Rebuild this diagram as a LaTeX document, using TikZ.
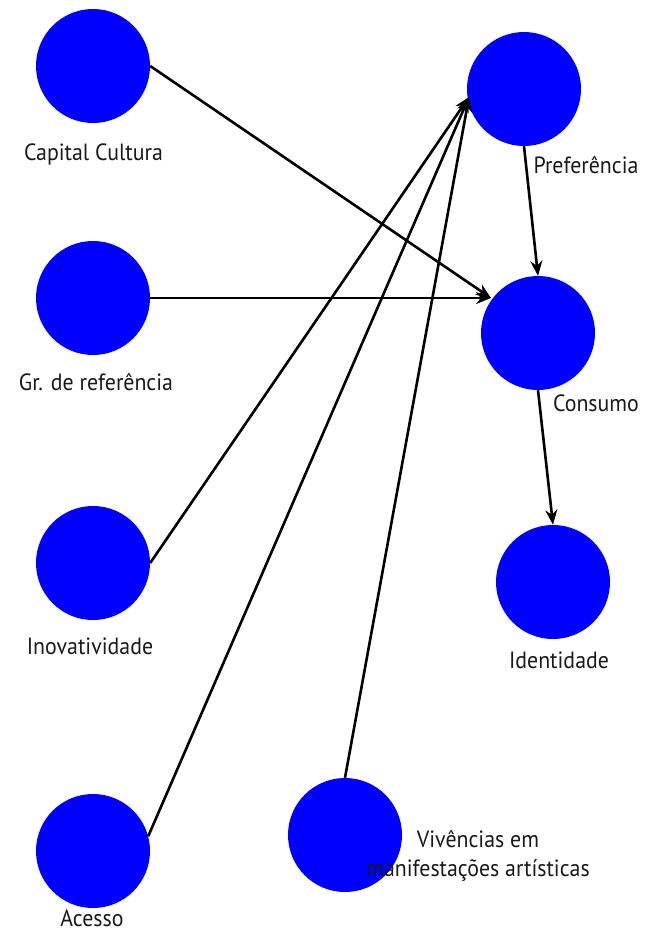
\documentclass[tikz,border=0pt]{standalone}
\usepackage{fontspec}
\setmainfont{PT Sans}[FakeStretch=0.93]
\usetikzlibrary{arrows.meta}
\begin{document}
\begin{tikzpicture}[x=1pt,y=-1pt,
  ball/.style={circle,fill={rgb,255:red,0;green,0;blue,255},draw=none,minimum size=114pt,inner sep=0pt},
  lbl/.style={anchor=base,inner sep=0pt,font=\fontsize{23.5}{29}\selectfont,text=black!90},
  conn/.style={line width=2.6pt,-{Stealth[length=15pt,width=12pt]}}]
\useasboundingbox (0,0) rectangle (654,932);
% nodes
\node[ball] (cap) at (93,66) {};
\node[ball] (gr) at (93,298) {};
\node[ball] (ino) at (93,563) {};
\node[ball] (ace) at (93,851) {};
\node[ball] (pref) at (524,89) {};
\node[ball] (cons) at (538,333) {};
\node[ball] (ident) at (553,582) {};
\node[ball] (viv) at (345,835) {};
% labels
\node[lbl] (lcap) at (93.5,160) {Capital Cultura};
\node[lbl] (lgr) at (96,390) {Gr. de referência};
\node[lbl] (lino) at (90,654) {Inovatividade};
\node[lbl] (lace) at (92,926) {Acesso};
\node[lbl] (lpref) at (586,173) {Preferência};
\node[lbl] (lcons) at (596,411) {Consumo};
\node[lbl] (lident) at (559,668) {Identidade};
\node[lbl,align=center] (lviv) at (478,876) {Vivências em\\manifestações artísticas};
% connection points
\coordinate (pin) at (469,97);
\coordinate (cin) at (491,298);
% edges
\draw[conn] (cap.east) -- (cin);
\draw[conn] (gr.east) -- (cin);
\draw[conn] (ino.east) -- (pin);
\draw[conn] (ace.15) -- (pin);
\draw[conn] (viv.north) -- (pin);
\draw[conn] (pref.south) -- (cons.north);
\draw[conn] (cons.south) -- (ident.north);
\end{tikzpicture}
\end{document}
